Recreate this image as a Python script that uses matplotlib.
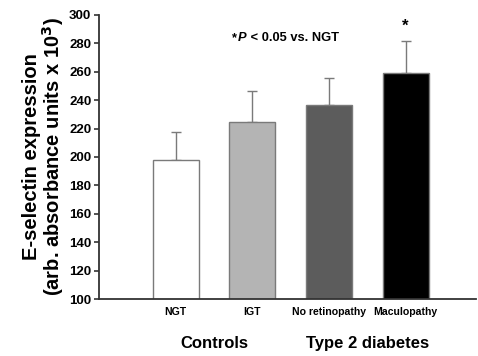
import matplotlib.pyplot as plt
import numpy as np

plt.rcParams['font.family'] = ['Liberation Sans', 'DejaVu Sans']

# Data
groups = ['NGT', 'IGT', 'No retinopathy', 'Maculopathy']
means = [198, 224.5, 236.5, 259]
upper = [217.5, 246.5, 255.5, 282]
colors = ['#ffffff', '#b4b4b4', '#5c5c5c', '#000000']
yticks = list(range(100, 301, 20))

err = [u - m for u, m in zip(upper, means)]
x = np.arange(len(groups))

fig = plt.figure(figsize=(4.78, 3.56), dpi=100)
ax = fig.add_axes([0.207, 0.160, 0.789, 0.798])

ax.bar(x, means, width=0.6, bottom=0, color=colors, edgecolor='#7a7a7a',
       linewidth=1.0, zorder=2)
ax.errorbar(x, means, yerr=[[0] * len(err), err], fmt='none',
            ecolor='#7a7a7a', elinewidth=1.0, capsize=3.6, capthick=1.0,
            zorder=1)

ax.set_xlim(-1.0, 3.92)
ax.set_ylim(100, 300)
ax.set_yticks(yticks)
ax.set_yticklabels([str(t) for t in yticks], fontsize=9.5, fontweight='bold')
ax.set_xticks(x)
ax.set_xticklabels(groups, fontsize=7.6, fontweight='bold')
ax.tick_params(axis='x', length=0, pad=6)
ax.tick_params(axis='y', length=3.5, width=1.2, color='#333333', pad=2)

for side in ['top', 'right']:
    ax.spines[side].set_visible(False)
for side in ['left', 'bottom']:
    ax.spines[side].set_color('#333333')
    ax.spines[side].set_linewidth(1.3)

ax.set_ylabel('E-selectin expression\n(arb. absorbance units x 10$^\\mathbf{3}$)',
              fontsize=14.5, fontweight='bold', linespacing=0.98, labelpad=2)

# significance marker
ax.text(x[3], upper[3] + 5, '*', ha='center', va='bottom', fontsize=12,
        fontweight='bold')
ax.text(0.74, 284, '*', ha='left', va='center', fontsize=9.3, fontweight='bold')
ax.text(0.815, 284, 'P', ha='left', va='center', fontsize=9.3, fontweight='bold',
        style='italic')
ax.text(0.925, 284, ' < 0.05 vs. NGT', ha='left', va='center', fontsize=9.3,
        fontweight='bold')

# group labels
ax.text(0.5, -0.155, 'Controls', transform=ax.get_xaxis_transform(),
        ha='center', va='center', fontsize=12, fontweight='bold')
ax.text(2.5, -0.155, 'Type 2 diabetes', transform=ax.get_xaxis_transform(),
        ha='center', va='center', fontsize=12, fontweight='bold')

fig.savefig('out.png', dpi=100)
